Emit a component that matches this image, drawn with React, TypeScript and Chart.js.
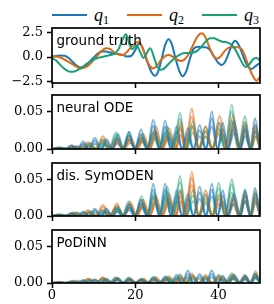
import React, { useEffect, useRef } from 'react';
import { Chart, registerables } from 'chart.js';
Chart.register(...registerables);

// ---------- series meta ----------
const SERIES_SYMBOL = 'q';
const SERIES_SUB = ['1', '2', '3'];
const SERIES_LABELS = ['q\u2081', 'q\u2082', 'q\u2083'];
const COLORS = ['#1878b8', '#dc6a14', '#17a077'];
const COLORS_RUN = ['rgba(24,120,184,0.55)', 'rgba(220,106,20,0.55)', 'rgba(23,160,119,0.5)'];

const PANEL_LABELS = ['ground truth', 'neural ODE', 'dis. SymODEN', 'PoDiNN'];
const X_TICKS = [0, 20, 40];
const GT_Y_TICKS = [-2.5, 0, 2.5];
const ERR_Y_TICKS = [0, 0.05];

// ---------- ground truth trajectories [t, value] ----------
const GT_Q1: [number, number][] = [
  [0, 0.05], [1, 0.1], [2, 0.15], [3, 0.12], [4, -0.1], [5, -0.5], [6, -0.9], [7, -1.05], [8, -0.9], [9, -0.5],
  [10, -0.05], [11, 0.35], [12, 0.55], [13, 0.55], [14, 0.45], [15, 0.35], [16, 0.3], [17, 0.2], [18, 0.05], [19, 0.1],
  [20, 0.7], [21, 1.4], [22, 0.7], [23, -0.6], [24, -1.6], [24.7, -1.9], [25.5, -1.5], [26.3, -0.3], [27.2, 1.2], [28, 1.8],
  [28.8, 1.3], [29.6, 0.0], [30.5, -1.3], [31.4, -1.95], [32.3, -1.4], [33.2, -0.1], [34, 0.8], [35, 1.05], [36, 1.0], [37, 1.0],
  [38, 0.7], [39, 0.0], [40, -0.6], [40.8, -0.8], [41.6, -0.5], [42.4, 0.3], [43.2, 1.2], [44, 1.65], [44.8, 1.3], [45.6, 0.5],
  [46.4, -0.4], [47.2, -1.0], [48, -1.2], [49, -0.9], [50, -0.6],
];
const GT_Q2: [number, number][] = [
  [0, 0], [1, 0.05], [2, -0.05], [3, -0.25], [4, -0.5], [5, -0.75], [6, -1.0], [7, -1.15], [8, -1.05], [9, -0.75],
  [10, -0.3], [11, 0.2], [12, 0.65], [13, 0.9], [14, 0.8], [15, 0.45], [16, 0.25], [17, 0.2], [18, 0.5], [19, 1.0],
  [20, 1.4], [20.8, 1.55], [21.6, 1.1], [22.5, 0], [23.5, -0.9], [24.3, -1.15], [25.2, -0.9], [26.2, -0.3], [27.2, 0.1], [28.1, 0.2],
  [29, 0.05], [30, -0.25], [31, -0.4], [32, -0.2], [33, 0.4], [34, 1.3], [35, 2.1], [36, 2.4], [37, 1.9], [38, 0.8],
  [39, 0.05], [39.8, -0.15], [40.6, 0.1], [41.5, 0.6], [42.5, 0.95], [43.5, 1.0], [44.5, 1.0], [45.5, 0.85], [46.4, 0.1], [47.4, -1.1],
  [48.4, -2.0], [49.2, -2.4], [50, -2.0],
];
const GT_Q3: [number, number][] = [
  [0, -0.1], [1, -0.35], [2, -0.8], [3, -1.2], [4, -1.45], [5, -1.5], [6, -1.35], [7, -1.1], [8, -0.8], [9, -0.5],
  [10, -0.25], [11, -0.1], [12, 0], [13, 0.1], [14, 0.2], [15, 0.35], [16, 0.8], [17, 1.8], [17.8, 2.3], [18.6, 1.3],
  [19.3, 0.8], [20.3, 1.2], [21.2, 0.5], [22, -0.1], [22.8, 0.4], [23.6, 0.9], [24.5, 0], [25.3, -1.0], [26, -1.3], [27, -1.15],
  [28, -0.7], [29, -0.3], [30, 0.05], [31, 0.3], [32, 0.4], [33, 0.4], [34, 0.45], [35, 0.65], [36, 1.1], [37, 1.6],
  [38, 1.9], [39, 1.9], [40, 1.7], [41, 1.55], [42, 1.5], [43, 1.3], [44, 0.8], [45, 0], [46, -0.8], [46.6, -1.0],
  [47.5, -0.7], [48.4, -0.2], [49.2, -0.1], [50, -0.35],
];

// ---------- error arches: zero crossings per coordinate ----------
const ZERO_Q1 = [0, 3.2, 6.1, 8.9, 11.7, 14.5, 17.2, 19.9, 22.9, 25.8, 28.6, 31.3, 34.0, 37.0, 39.8, 42.3, 45.3, 47.6, 50];
const ZERO_Q2 = [0, 3.5, 6.8, 10.5, 14.0, 17.2, 20.4, 23.5, 26.5, 29.8, 32.0, 35.2, 38.6, 42.0, 45.0, 47.8, 50];
const ZERO_Q3 = [0, 4.4, 7.6, 10.7, 13.8, 16.9, 20.0, 23.0, 26.1, 29.2, 32.3, 35.4, 38.5, 41.6, 44.8, 47.9, 50];

// arch peak heights, several runs per coordinate
const NODE_Q1 = [
  [0.002, 0.005, 0.010, 0.015, 0.013, 0.020, 0.023, 0.026, 0.039, 0.038, 0.030, 0.028, 0.032, 0.050, 0.035, 0.038, 0.032, 0.041],
  [0.001, 0.004, 0.007, 0.011, 0.010, 0.015, 0.018, 0.020, 0.031, 0.030, 0.023, 0.021, 0.025, 0.041, 0.027, 0.030, 0.025, 0.033],
  [0.001, 0.002, 0.005, 0.007, 0.006, 0.010, 0.012, 0.014, 0.022, 0.021, 0.016, 0.014, 0.017, 0.030, 0.019, 0.021, 0.017, 0.024],
];
const NODE_Q2 = [
  [0.002, 0.004, 0.009, 0.017, 0.014, 0.016, 0.020, 0.030, 0.028, 0.036, 0.054, 0.030, 0.044, 0.045, 0.036, 0.030],
  [0.001, 0.003, 0.007, 0.013, 0.011, 0.012, 0.015, 0.023, 0.021, 0.028, 0.043, 0.023, 0.035, 0.035, 0.028, 0.023],
  [0.001, 0.002, 0.004, 0.009, 0.007, 0.008, 0.010, 0.016, 0.015, 0.019, 0.031, 0.016, 0.025, 0.025, 0.020, 0.016],
];
const NODE_Q3 = [
  [0.002, 0.004, 0.008, 0.012, 0.022, 0.022, 0.018, 0.025, 0.030, 0.048, 0.037, 0.030, 0.035, 0.059, 0.044, 0.030],
  [0.001, 0.003, 0.006, 0.009, 0.018, 0.018, 0.014, 0.020, 0.024, 0.040, 0.030, 0.024, 0.028, 0.050, 0.036, 0.024],
  [0.001, 0.002, 0.004, 0.006, 0.013, 0.013, 0.010, 0.014, 0.017, 0.030, 0.022, 0.017, 0.020, 0.038, 0.026, 0.017],
];
const SYM_Q1 = [
  [0.002, 0.004, 0.006, 0.010, 0.010, 0.012, 0.016, 0.022, 0.044, 0.044, 0.035, 0.030, 0.040, 0.044, 0.035, 0.030, 0.036, 0.038],
  [0.001, 0.003, 0.005, 0.008, 0.008, 0.009, 0.012, 0.017, 0.036, 0.036, 0.028, 0.024, 0.032, 0.036, 0.028, 0.024, 0.029, 0.031],
  [0.001, 0.002, 0.003, 0.005, 0.005, 0.006, 0.008, 0.012, 0.027, 0.027, 0.020, 0.017, 0.023, 0.027, 0.020, 0.017, 0.021, 0.022],
];
const SYM_Q2 = [
  [0.002, 0.005, 0.008, 0.015, 0.017, 0.019, 0.022, 0.028, 0.030, 0.035, 0.060, 0.035, 0.030, 0.028, 0.033, 0.030],
  [0.001, 0.004, 0.006, 0.012, 0.014, 0.015, 0.018, 0.023, 0.024, 0.028, 0.052, 0.028, 0.024, 0.022, 0.027, 0.024],
  [0.001, 0.003, 0.004, 0.008, 0.010, 0.011, 0.013, 0.017, 0.018, 0.020, 0.042, 0.020, 0.017, 0.016, 0.019, 0.017],
];
const SYM_Q3 = [
  [0.002, 0.005, 0.007, 0.008, 0.012, 0.020, 0.027, 0.031, 0.040, 0.054, 0.035, 0.030, 0.045, 0.050, 0.035, 0.033],
  [0.001, 0.004, 0.005, 0.006, 0.010, 0.016, 0.022, 0.025, 0.033, 0.046, 0.028, 0.024, 0.038, 0.043, 0.028, 0.026],
  [0.001, 0.003, 0.004, 0.004, 0.007, 0.011, 0.016, 0.018, 0.024, 0.035, 0.020, 0.017, 0.028, 0.032, 0.020, 0.019],
];
const PODI_Q1 = [
  [0.001, 0.002, 0.004, 0.005, 0.006, 0.007, 0.006, 0.005, 0.008, 0.009, 0.011, 0.017, 0.012, 0.017, 0.010, 0.011, 0.010, 0.013],
  [0.001, 0.002, 0.003, 0.004, 0.005, 0.005, 0.005, 0.004, 0.006, 0.007, 0.008, 0.012, 0.009, 0.012, 0.008, 0.008, 0.008, 0.010],
  [0.000, 0.001, 0.002, 0.003, 0.003, 0.004, 0.003, 0.003, 0.004, 0.005, 0.006, 0.008, 0.006, 0.008, 0.005, 0.006, 0.005, 0.007],
];
const PODI_Q2 = [
  [0.001, 0.003, 0.006, 0.008, 0.007, 0.006, 0.006, 0.008, 0.009, 0.010, 0.013, 0.011, 0.010, 0.012, 0.011, 0.016],
  [0.001, 0.002, 0.005, 0.006, 0.006, 0.005, 0.005, 0.006, 0.007, 0.008, 0.010, 0.008, 0.008, 0.009, 0.008, 0.012],
  [0.000, 0.001, 0.003, 0.004, 0.004, 0.003, 0.003, 0.004, 0.005, 0.005, 0.007, 0.006, 0.005, 0.006, 0.006, 0.008],
];
const PODI_Q3 = [
  [0.001, 0.003, 0.005, 0.007, 0.008, 0.008, 0.006, 0.008, 0.009, 0.012, 0.010, 0.009, 0.011, 0.013, 0.010, 0.012],
  [0.001, 0.002, 0.004, 0.006, 0.007, 0.006, 0.005, 0.006, 0.007, 0.009, 0.008, 0.007, 0.009, 0.010, 0.008, 0.009],
  [0.000, 0.001, 0.003, 0.004, 0.005, 0.004, 0.003, 0.004, 0.005, 0.006, 0.005, 0.005, 0.006, 0.007, 0.005, 0.006],
];

// ---------- helpers ----------
const ZEROS = [ZERO_Q1, ZERO_Q2, ZERO_Q3];

function archData(zeros: number[], peaks: number[]) {
  const pts: { x: number; y: number }[] = [];
  for (let i = 0; i < peaks.length; i++) {
    pts.push({ x: zeros[i], y: 0 });
    pts.push({ x: (zeros[i] + zeros[i + 1]) / 2, y: peaks[i] });
  }
  pts.push({ x: zeros[peaks.length], y: 0 });
  return pts;
}

function gtDatasets() {
  return [GT_Q1, GT_Q2, GT_Q3].map((s, i) => ({
    label: SERIES_LABELS[i],
    data: s.map(([x, y]) => ({ x, y })),
    borderColor: COLORS[i],
    borderWidth: 2,
    pointRadius: 0,
    fill: false,
    order: 3 - i,
  }));
}

function errDatasets(runs: number[][][]) {
  const out: any[] = [];
  const nRuns = runs[0].length;
  for (let r = 0; r < nRuns; r++) {
    for (let c = 0; c < 3; c++) {
      out.push({
        label: SERIES_LABELS[c],
        data: archData(ZEROS[c], runs[c][r]),
        borderColor: COLORS_RUN[c],
        borderWidth: 1.9,
        pointRadius: 0,
        fill: false,
      });
    }
  }
  return out;
}

type Spec = {
  top: number;
  height: number;
  padTop: number;
  xHeight: number;
  label: string;
  datasets: any[];
  yMin: number;
  yMax: number;
  yTicks: number[];
  decimals: number;
  showX: boolean;
};

const SPECS: Spec[] = [
  { top: 20, height: 76, padTop: 8, xHeight: 13, label: PANEL_LABELS[0], datasets: gtDatasets(), yMin: -2.63, yMax: 2.94, yTicks: GT_Y_TICKS, decimals: 1, showX: false },
  { top: 86, height: 76, padTop: 9, xHeight: 13, label: PANEL_LABELS[1], datasets: errDatasets([NODE_Q1, NODE_Q2, NODE_Q3]), yMin: 0, yMax: 0.072, yTicks: ERR_Y_TICKS, decimals: 2, showX: false },
  { top: 153, height: 76, padTop: 10, xHeight: 13, label: PANEL_LABELS[2], datasets: errDatasets([SYM_Q1, SYM_Q2, SYM_Q3]), yMin: 0, yMax: 0.072, yTicks: ERR_Y_TICKS, decimals: 2, showX: false },
  { top: 220, height: 84, padTop: 10, xHeight: 21, label: PANEL_LABELS[3], datasets: errDatasets([PODI_Q1, PODI_Q2, PODI_Q3]), yMin: 0, yMax: 0.072, yTicks: ERR_Y_TICKS, decimals: 2, showX: true },
];

const TICK_FONT = { family: '"DejaVu Serif", serif', size: 13 };

function makeDecor(label: string) {
  return {
    id: 'panelDecor',
    afterDatasetsDraw(chart: any) {
      const { ctx, chartArea: a } = chart;
      ctx.save();
      ctx.font = '13.5px "DejaVu Sans", sans-serif';
      ctx.fillStyle = '#000';
      ctx.textAlign = 'left';
      ctx.textBaseline = 'alphabetic';
      ctx.fillText(label, a.left + 4.5, a.top + 17);
      ctx.lineWidth = 1.7;
      ctx.strokeStyle = '#000';
      ctx.strokeRect(a.left, a.top, a.right - a.left, a.bottom - a.top);
      ctx.restore();
    },
  };
}

function Panel({ spec }: { spec: Spec }) {
  const ref = useRef<HTMLCanvasElement>(null);
  useEffect(() => {
    const gridOpts = {
      display: true,
      drawOnChartArea: false,
      drawTicks: true,
      tickLength: 5,
      tickWidth: 1.5,
      tickColor: '#000',
      color: '#000',
    };
    const chart = new Chart(ref.current as HTMLCanvasElement, {
      type: 'line',
      data: { datasets: spec.datasets },
      options: {
        responsive: false,
        animation: false,
        devicePixelRatio: 1,
        events: [],
        layout: { padding: { left: 0, right: 14, top: spec.padTop, bottom: 0 } },
        plugins: { legend: { display: false }, tooltip: { enabled: false } },
        elements: { point: { radius: 0 }, line: { cubicInterpolationMode: 'monotone' } },
        scales: {
          x: {
            type: 'linear',
            min: 0,
            max: 50,
            afterBuildTicks: (s: any) => {
              s.ticks = X_TICKS.map((v) => ({ value: v }));
            },
            afterFit: (s: any) => {
              s.height = spec.xHeight;
              s.paddingLeft = 0;
              s.paddingRight = 0;
            },
            grid: gridOpts,
            border: { display: false },
            ticks: {
              display: spec.showX,
              color: '#000',
              font: TICK_FONT,
              padding: 0,
              maxRotation: 0,
              autoSkip: false,
            },
          },
          y: {
            type: 'linear',
            min: spec.yMin,
            max: spec.yMax,
            afterBuildTicks: (s: any) => {
              s.ticks = spec.yTicks.map((v) => ({ value: v }));
            },
            afterFit: (s: any) => {
              s.width = 52;
              s.paddingTop = 0;
              s.paddingBottom = 0;
            },
            grid: gridOpts,
            border: { display: false },
            ticks: {
              color: '#000',
              font: TICK_FONT,
              padding: 4,
              autoSkip: false,
              callback: (v: any) => Number(v).toFixed(spec.decimals).replace('-', '\u2212'),
            },
          },
        },
      } as any,
      plugins: [makeDecor(spec.label)],
    });
    return () => chart.destroy();
  }, [spec]);
  return (
    <canvas
      ref={ref}
      width={274}
      height={spec.height}
      style={{ position: 'absolute', left: 0, top: spec.top, width: 274, height: spec.height }}
    />
  );
}

function Legend() {
  return (
    <div style={{ position: 'absolute', left: 52, top: 0, height: 28, display: 'flex', gap: 17 }}>
      {SERIES_SUB.map((sub, i) => (
        <div key={i} style={{ position: 'relative', width: 58, height: 28 }}>
          <div style={{ position: 'absolute', left: 0, top: 14, width: 35, height: 2, background: COLORS[i] }} />
          <span
            style={{
              position: 'absolute',
              left: 42,
              top: 6,
              fontFamily: '"Liberation Serif", serif',
              fontSize: 18,
              lineHeight: '18px',
              whiteSpace: 'nowrap',
              color: '#000',
            }}
          >
            <i>{SERIES_SYMBOL}</i>
            <span style={{ fontSize: 12, position: 'relative', top: 3 }}>{sub}</span>
          </span>
        </div>
      ))}
    </div>
  );
}

export default function App() {
  return (
    <div style={{ position: 'absolute', left: 0, top: 0, width: 274, height: 304, background: '#fff', overflow: 'hidden' }}>
      <Legend />
      {SPECS.map((s, i) => (
        <Panel key={i} spec={s} />
      ))}
    </div>
  );
}
